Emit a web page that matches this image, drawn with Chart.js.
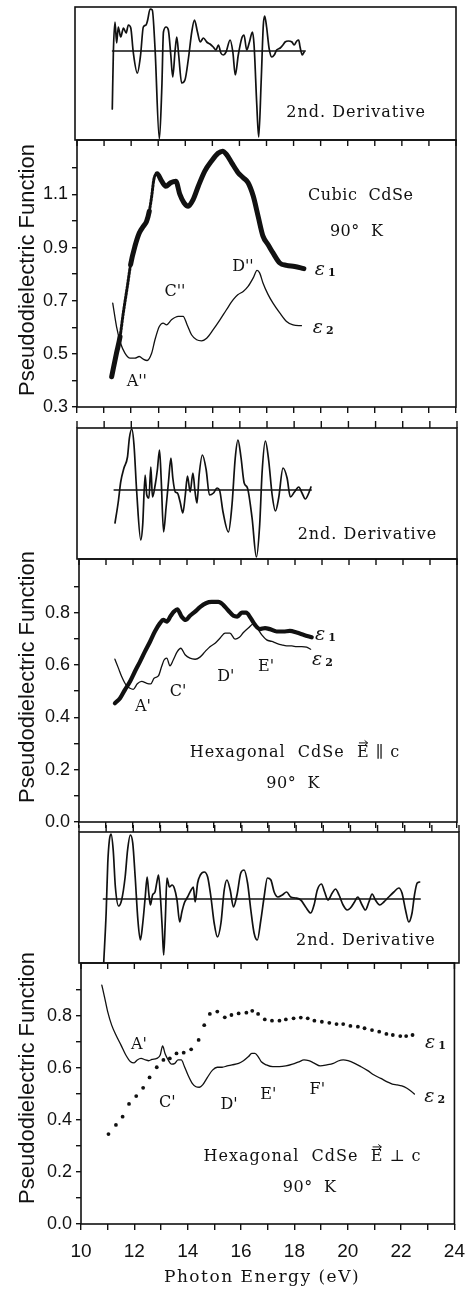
<!DOCTYPE html>
<html><head><meta charset="utf-8">
<script src="https://cdn.jsdelivr.net/npm/chart.js@4.4.0/dist/chart.umd.min.js"></script>
<style>
html,body{margin:0;padding:0;background:#fff;}
body{width:475px;height:1289px;position:relative;overflow:hidden;}
canvas{position:absolute;left:0;}
</style></head><body>
<script>
// ---------- shared axis values ----------
const xTickVals = [10,11,12,13,14,15,16,17,18,19,20,21,22,23,24];
const xTickLabels = ['10','','12','','14','','16','','18','','20','','22','','24'];

// ---------- panel 1 : 2nd derivative (cubic) ----------
const d1X = [11.37,11.41,11.47,11.53,11.59,11.68,11.78,11.88,11.96,12.05,12.14,12.29,12.41,12.51,12.61,12.67,12.76,12.84,12.94,13.10,13.19,13.25,13.35,13.43,13.52,13.59,13.68,13.74,13.81,13.92,14.04,14.17,14.29,14.39,14.50,14.60,14.72,14.84,14.96,15.08,15.18,15.27,15.36,15.45,15.55,15.70,15.80,15.89,16.00,16.13,16.21,16.31,16.41,16.52,16.58,16.68,16.75,16.84,16.92,16.97,17.04,17.13,17.23,17.32,17.41,17.54,17.64,17.72,17.84,17.97,18.05,18.15,18.22,18.27,18.35,18.42];
const d1Y = [-58,-1,29,8,24,14,23,18,26,23,-1,-22,-4,24,26,31,42,41,3,-88,-37,19,24,21,-4,-26,1,14,-4,-32,-29,-7,19,31,19,9,13,9,7,4,1,6,-2,-4,-1,11,-1,-24,-4,13,16,1,9,19,6,-54,-86,-31,26,35,24,3,-6,-4,1,3,6,9,10,9,6,10,11,4,-4,-1];
const d1ZeroX = [11.38, 18.46];

// ---------- panel 2 : cubic CdSe ----------
const c1X = [11.28,11.46,11.59,11.71,11.86,11.98,12.14,12.30,12.45,12.57,12.67,12.76,12.84,12.96,13.13,13.28,13.46,13.65,13.80,13.95,14.11,14.29,14.48,14.72,14.97,15.21,15.38,15.52,15.71,15.95,16.14,16.32,16.51,16.69,16.87,17.06,17.24,17.49,17.74,18.04,18.38];
const c1Y = [0.414,0.503,0.565,0.654,0.754,0.836,0.905,0.955,0.980,0.999,1.037,1.094,1.157,1.178,1.150,1.131,1.144,1.150,1.100,1.069,1.056,1.081,1.131,1.188,1.226,1.255,1.263,1.251,1.220,1.182,1.163,1.144,1.094,1.018,0.943,0.911,0.880,0.842,0.833,0.829,0.821];
const c2X = [11.32,11.46,11.61,11.77,11.96,12.14,12.30,12.45,12.59,12.76,12.88,13.04,13.18,13.31,13.49,13.74,13.92,14.07,14.23,14.42,14.60,14.79,15.03,15.28,15.52,15.77,15.95,16.14,16.32,16.51,16.65,16.75,16.87,17.06,17.24,17.49,17.74,17.98,18.29];
const c2Y = [0.691,0.603,0.540,0.503,0.484,0.484,0.490,0.480,0.475,0.503,0.553,0.603,0.616,0.609,0.628,0.641,0.641,0.609,0.572,0.553,0.549,0.559,0.591,0.628,0.666,0.704,0.723,0.735,0.754,0.786,0.814,0.804,0.767,0.723,0.691,0.654,0.622,0.609,0.606];
const c1Dotted = [[11.52, 11.98], [12.60, 12.86]];
const p2YTicks = [0.3,0.4,0.5,0.6,0.7,0.8,0.9,1.0,1.1,1.2];
const p2YLabels = ['0.3','','0.5','','0.7','','0.9','','1.1',''];

// ---------- panel 3 : 2nd derivative (hex E||c) ----------
const d2X = [11.40,11.52,11.61,11.73,11.86,11.93,12.02,12.10,12.20,12.35,12.42,12.51,12.57,12.65,12.72,12.78,12.88,12.96,13.04,13.10,13.19,13.28,13.37,13.46,13.53,13.62,13.70,13.80,13.90,13.99,14.07,14.17,14.27,14.35,14.42,14.50,14.62,14.76,14.88,15.03,15.16,15.25,15.38,15.58,15.71,15.83,15.93,16.04,16.16,16.28,16.45,16.61,16.73,16.82,16.94,17.06,17.19,17.31,17.43,17.59,17.74,17.86,18.01,18.17,18.29,18.41,18.54,18.62];
const d2Y = [-33,-12,8,22,33,52,61,45,-2,-50,-35,15,-5,-8,23,-7,5,20,40,12,-42,-18,8,32,12,-2,-3,-12,-23,-5,14,-2,17,-2,-13,15,35,20,-5,-3,2,0,-22,-42,-15,32,50,33,7,2,-28,-67,-35,18,49,30,-5,-21,-8,22,12,-7,-2,3,-3,-9,-3,3];
const d2ZeroX = [11.37, 18.63];

// ---------- panel 4 : hexagonal CdSe E||c ----------
const h1X = [11.33,11.52,11.70,11.89,12.07,12.26,12.44,12.63,12.81,13.00,13.12,13.25,13.40,13.52,13.64,13.80,13.96,14.11,14.30,14.48,14.70,14.91,15.16,15.34,15.53,15.72,15.86,16.03,16.19,16.36,16.52,16.70,16.89,17.07,17.32,17.57,17.81,18.06,18.33,18.62];
const h1Y = [0.454,0.473,0.505,0.537,0.575,0.613,0.651,0.689,0.728,0.760,0.772,0.766,0.788,0.804,0.813,0.785,0.772,0.788,0.804,0.821,0.836,0.841,0.841,0.830,0.808,0.788,0.785,0.800,0.800,0.779,0.753,0.737,0.741,0.737,0.728,0.728,0.730,0.724,0.715,0.706];
const h2X = [11.33,11.46,11.58,11.74,11.89,12.01,12.16,12.32,12.51,12.66,12.78,12.94,13.06,13.15,13.25,13.37,13.49,13.64,13.77,13.93,14.11,14.30,14.48,14.67,14.85,15.04,15.22,15.41,15.59,15.78,15.94,16.09,16.27,16.46,16.60,16.77,16.95,17.14,17.32,17.51,17.69,17.88,18.06,18.25,18.43,18.58];
const h2Y = [0.622,0.588,0.556,0.524,0.511,0.507,0.528,0.537,0.530,0.528,0.549,0.558,0.594,0.619,0.626,0.597,0.619,0.651,0.664,0.639,0.626,0.622,0.630,0.651,0.670,0.683,0.702,0.722,0.722,0.699,0.706,0.724,0.741,0.757,0.741,0.715,0.696,0.690,0.683,0.677,0.673,0.673,0.670,0.670,0.668,0.660];
const hexYTicks = [0,0.1,0.2,0.3,0.4,0.5,0.6,0.7,0.8,0.9];
const hexYLabels = ['0.0','','0.2','','0.4','','0.6','','0.8',''];

// ---------- panel 5 : 2nd derivative (hex E perp c) ----------
const d3X = [10.91,11.00,11.06,11.12,11.18,11.26,11.34,11.46,11.57,11.70,11.79,11.89,11.98,12.07,12.17,12.26,12.35,12.44,12.51,12.57,12.63,12.71,12.80,12.87,12.93,13.00,13.07,13.12,13.18,13.24,13.33,13.43,13.51,13.61,13.71,13.79,13.88,14.00,14.13,14.21,14.28,14.37,14.47,14.61,14.74,14.86,14.98,15.10,15.23,15.35,15.45,15.57,15.69,15.82,15.96,16.08,16.21,16.33,16.45,16.57,16.70,16.82,16.94,17.07,17.19,17.33,17.49,17.65,17.80,17.98,18.17,18.35,18.54,18.66,18.78,18.93,19.05,19.17,19.33,19.45,19.58,19.73,19.88,20.00,20.15,20.27,20.43,20.55,20.68,20.80,20.92,21.08,21.23,21.41,21.60,21.78,21.90,22.03,22.15,22.27,22.36,22.46,22.55];
const d3Y = [-64,-14,36,59,65,49,12,-7,-1,22,49,64,56,22,-21,-41,-24,2,22,6,-6,4,7,17,24,2,-31,-56,-21,21,12,14,11,-1,-23,-13,-4,2,9,12,-3,16,24,27,22,2,-24,-38,-24,9,19,9,-8,4,26,29,16,-11,-34,-41,-21,2,21,19,7,2,4,7,2,1,-1,-8,-14,-6,9,15,7,-1,6,10,4,-6,-11,-9,-3,2,-6,-11,-3,5,-1,-6,-3,2,7,11,6,-11,-23,-14,4,16,17];
const d3ZeroX = [10.90, 22.57];

// ---------- panel 6 : hexagonal CdSe E perp c ----------
const p1X = [11.03,11.31,11.56,11.80,12.07,12.33,12.57,12.84,13.09,13.33,13.58,13.85,14.13,14.41,14.62,14.83,15.11,15.39,15.64,15.91,16.20,16.42,16.64,16.89,17.16,17.44,17.68,17.97,18.24,18.50,18.75,19.03,19.31,19.58,19.83,20.10,20.38,20.63,20.91,21.18,21.45,21.69,21.97,22.19,22.43];
const p1Y = [0.346,0.381,0.413,0.462,0.492,0.524,0.564,0.603,0.631,0.637,0.656,0.659,0.672,0.708,0.765,0.808,0.817,0.795,0.804,0.810,0.813,0.820,0.808,0.787,0.782,0.782,0.787,0.791,0.794,0.791,0.782,0.778,0.774,0.769,0.769,0.762,0.759,0.753,0.746,0.740,0.731,0.727,0.723,0.723,0.727];
const p2X = [10.78,10.88,11.00,11.15,11.31,11.50,11.68,11.86,11.99,12.11,12.25,12.42,12.54,12.66,12.84,12.97,13.06,13.15,13.27,13.39,13.52,13.64,13.76,13.88,14.01,14.17,14.31,14.44,14.56,14.74,14.93,15.11,15.29,15.48,15.66,15.91,16.09,16.28,16.40,16.52,16.64,16.76,16.95,17.19,17.44,17.68,17.93,18.17,18.36,18.54,18.72,18.97,19.22,19.46,19.64,19.83,20.01,20.26,20.50,20.75,20.99,21.24,21.48,21.67,21.85,22.03,22.22,22.40,22.50];
const p2Y = [0.919,0.874,0.817,0.765,0.727,0.688,0.650,0.624,0.620,0.631,0.637,0.631,0.628,0.633,0.637,0.650,0.685,0.656,0.631,0.615,0.618,0.631,0.631,0.605,0.573,0.541,0.528,0.526,0.535,0.564,0.592,0.603,0.603,0.608,0.612,0.618,0.628,0.644,0.656,0.656,0.644,0.624,0.612,0.605,0.605,0.608,0.615,0.624,0.631,0.628,0.620,0.608,0.612,0.618,0.627,0.631,0.628,0.618,0.605,0.590,0.573,0.560,0.547,0.538,0.535,0.531,0.522,0.509,0.500];

// ---------- helpers ----------
const pts = (xs, ys) => xs.map((x, i) => ({x, y: ys[i]}));
const zero = xs => xs.map(x => ({x, y: 0}));
const W = 475;
const INK = '#111';
const SERIF = '"DejaVu Serif", serif';
const SANS = '"Liberation Sans", Arial, sans-serif';

const framePlugin = {
  id: 'frame',
  afterDraw(chart, args, o) {
    const ctx = chart.ctx, a = chart.chartArea, sx = chart.scales.x, sy = chart.scales.y;
    ctx.save();
    ctx.strokeStyle = INK; ctx.lineWidth = 1.6;
    ctx.strokeRect(a.left, a.top, a.right - a.left, a.bottom - a.top);
    if (o.topTicks) {
      const d = o.topTicks === 'in' ? 6 : -7;
      ctx.lineWidth = 1.4;
      xTickVals.forEach(v => {
        const px = sx.getPixelForValue(v);
        ctx.beginPath(); ctx.moveTo(px, a.top); ctx.lineTo(px, a.top + d); ctx.stroke();
      });
    }
    ctx.fillStyle = INK;
    (o.texts || []).forEach(t => {
      const px = sx.getPixelForValue(t.x), py = sy.getPixelForValue(t.y);
      if (t.eps) {
        ctx.textAlign = 'left'; ctx.textBaseline = 'middle';
        ctx.font = 'italic 19px ' + SERIF;
        ctx.fillText('\u03b5', px, py);
        const w = ctx.measureText('\u03b5').width;
        ctx.font = 'bold 11px ' + SERIF;
        ctx.fillText(t.eps, px + w + 3, py + 3);
      } else {
        ctx.font = t.font || ('16px ' + SERIF);
        ctx.letterSpacing = (t.ls || 0) + 'px';
        ctx.textAlign = 'center'; ctx.textBaseline = 'middle';
        ctx.fillText(t.t, px, py);
        if (t.vec) {
          // arrow accent over the vector E
          const total = ctx.measureText(t.t).width;
          const i = t.t.lastIndexOf('E');
          const x0 = px - total / 2 + ctx.measureText(t.t.slice(0, i)).width;
          const ew = ctx.measureText('E').width - (t.ls || 0);
          const ay = py - 10;
          ctx.strokeStyle = INK; ctx.lineWidth = 1;
          ctx.beginPath(); ctx.moveTo(x0 + 2, ay); ctx.lineTo(x0 + ew - 1, ay); ctx.stroke();
          ctx.beginPath(); ctx.moveTo(x0 + ew - 4, ay - 2.5); ctx.lineTo(x0 + ew - 1, ay); ctx.lineTo(x0 + ew - 4, ay + 2.5); ctx.stroke();
        }
        ctx.letterSpacing = '0px';
      }
    });
    const top = parseFloat(chart.canvas.style.top);
    if (o.yTitle) {
      ctx.save();
      ctx.translate(28, o.yTitle - top);
      ctx.rotate(-Math.PI / 2);
      ctx.font = '22px ' + SANS;
      ctx.textAlign = 'center'; ctx.textBaseline = 'middle';
      ctx.fillText('Pseudodielectric Function', 0, 0);
      ctx.restore();
    }
    if (o.xTitle) {
      ctx.font = '17px ' + SERIF;
      ctx.letterSpacing = '1.5px';
      ctx.textAlign = 'center'; ctx.textBaseline = 'middle';
      ctx.fillText('Photon Energy (eV)', o.xTitle[0], o.xTitle[1] - top);
      ctx.letterSpacing = '0px';
    }
    ctx.restore();
  }
};

function panel(p) {
  const c = document.createElement('canvas');
  const top = p.T - p.padT, h = (p.B - p.T) + p.padT + p.padB;
  c.width = W; c.height = h;
  c.style.top = top + 'px'; c.style.width = W + 'px'; c.style.height = h + 'px';
  document.body.appendChild(c);
  const hasY = !!p.yTicks, hasX = !!p.xAxis;
  const xScale = {
    type: 'linear', min: 10, max: 24, display: hasX,
    afterFit: s => { if (hasX) s.height = p.padB; },
    afterBuildTicks: s => { s.ticks = xTickVals.map(v => ({value: v})); },
    border: {display: false},
    grid: {drawOnChartArea: false, drawTicks: true, tickLength: 6, color: INK, lineWidth: 1.4},
    ticks: {display: !!p.xLabels, autoSkip: false, maxRotation: 0, padding: 10,
      color: INK, font: {family: SANS, size: 19},
      callback: (v, i) => xTickLabels[i]}
  };
  const yScale = {
    type: 'linear', min: p.yMin, max: p.yMax, display: hasY,
    afterFit: s => { if (hasY) s.width = p.L; },
    afterBuildTicks: s => { if (p.yTicks) s.ticks = p.yTicks.map(v => ({value: v})); },
    border: {display: false},
    grid: {drawOnChartArea: false, drawTicks: true, tickLength: 5, color: INK, lineWidth: 1.4},
    ticks: {autoSkip: false, padding: 4, color: INK, font: {family: SANS, size: 18},
      callback: (v, i) => p.yLabels ? p.yLabels[i] : ''}
  };
  return new Chart(c, {
    type: 'line',
    data: {datasets: p.datasets},
    options: {
      responsive: false, animation: false, devicePixelRatio: 1,
      layout: {padding: {left: hasY ? 0 : p.L, right: W - p.R, top: p.padT, bottom: hasX ? 0 : p.padB}},
      elements: {point: {radius: 0}, line: {borderColor: INK, cubicInterpolationMode: 'monotone', borderJoinStyle: 'round', borderCapStyle: 'round'}},
      plugins: {legend: {display: false}, tooltip: {enabled: false}, frame: p.frame},
      scales: {x: xScale, y: yScale}
    },
    plugins: [framePlugin]
  });
}

const derivLine = (xs, ys) => ({data: pts(xs, ys), borderColor: INK, borderWidth: 1.7, pointRadius: 0});
const zeroLine = xs => ({data: zero(xs), borderColor: INK, borderWidth: 1.6, pointRadius: 0});
const inRanges = (x, rs) => rs.some(r => x >= r[0] && x < r[1]);

// Panel 1
panel({T: 7, B: 140, L: 75, R: 456, padT: 2, padB: 2, yMin: -89, yMax: 44,
  datasets: [zeroLine(d1ZeroX), derivLine(d1X, d1Y)],
  frame: {texts: [{t: '2nd. Derivative', x: 20.33, y: -62, ls: 1}]}});

// Panel 2
panel({T: 140, B: 407, L: 77, R: 456, padT: 16, padB: 16, yMin: 0.3, yMax: 1.305,
  yTicks: p2YTicks, yLabels: p2YLabels, xAxis: true,
  datasets: [
    {data: pts(c2X, c2Y), borderColor: INK, borderWidth: 1.3, pointRadius: 0},
    {data: pts(c1X, c1Y), borderColor: INK, borderWidth: 5, pointRadius: 0,
      segment: {
        borderWidth: ctx => inRanges(ctx.p0.parsed.x, c1Dotted) ? 3 : 5,
        borderDash: ctx => inRanges(ctx.p0.parsed.x, c1Dotted) ? [2, 1.5] : []
      }}
  ],
  frame: {topTicks: 'in', yTitle: 270, texts: [
    {t: 'Cubic  CdSe', x: 20.48, y: 1.096, ls: 0.5},
    {t: '90\u00b0  K', x: 20.33, y: 0.960, ls: 0.5},
    {eps: '1', x: 18.78, y: 0.817},
    {eps: '2', x: 18.71, y: 0.598},
    {t: "D''", x: 16.13, y: 0.828},
    {t: "C''", x: 13.62, y: 0.734},
    {t: "A''", x: 12.21, y: 0.394}
  ]}});

// Panel 3
panel({T: 428, B: 559, L: 77, R: 457, padT: 10, padB: 2, yMin: -69, yMax: 62,
  datasets: [zeroLine(d2ZeroX), derivLine(d2X, d2Y)],
  frame: {topTicks: 'out', texts: [{t: '2nd. Derivative', x: 20.70, y: -45, ls: 1}]}});

// Panel 4
panel({T: 559, B: 822, L: 79, R: 457, padT: 16, padB: 16, yMin: 0, yMax: 1.005,
  yTicks: hexYTicks, yLabels: hexYLabels, xAxis: true,
  datasets: [
    {data: pts(h2X, h2Y), borderColor: INK, borderWidth: 1.3, pointRadius: 0},
    {data: pts(h1X, h1Y), borderColor: INK, borderWidth: 4.2, pointRadius: 0}
  ],
  frame: {topTicks: 'in', yTitle: 677, texts: [
    {t: 'Hexagonal  CdSe  E \u2225 c', x: 18.0, y: 0.264, ls: 1, vec: true},
    {t: '90\u00b0  K', x: 17.93, y: 0.145, ls: 0.5},
    {eps: '1', x: 18.74, y: 0.715},
    {eps: '2', x: 18.63, y: 0.620},
    {t: "E'", x: 16.93, y: 0.593},
    {t: "D'", x: 15.44, y: 0.555},
    {t: "C'", x: 13.67, y: 0.497},
    {t: "A'", x: 12.37, y: 0.440}
  ]}});

// Panel 5
panel({T: 832, B: 963, L: 79, R: 459, padT: 10, padB: 2, yMin: -64, yMax: 67,
  datasets: [zeroLine(d3ZeroX), derivLine(d3X, d3Y)],
  frame: {topTicks: 'out', texts: [{t: '2nd. Derivative', x: 20.57, y: -42, ls: 1}]}});

// Panel 6
panel({T: 963, B: 1224, L: 81, R: 462, padT: 16, padB: 64, yMin: 0, yMax: 1.004,
  yTicks: hexYTicks, yLabels: hexYLabels, xAxis: true, xLabels: true,
  datasets: [
    {data: pts(p2X, p2Y), borderColor: INK, borderWidth: 1.3, pointRadius: 0},
    {data: pts(p1X, p1Y), showLine: false, pointRadius: 1.9, pointBackgroundColor: INK, pointBorderWidth: 0}
  ],
  frame: {topTicks: 'in', yTitle: 1078, xTitle: [262, 1278], texts: [
    {t: 'Hexagonal  CdSe  E \u22a5 c', x: 18.68, y: 0.258, ls: 1, vec: true},
    {t: '90\u00b0  K', x: 18.57, y: 0.138, ls: 0.5},
    {eps: '1', x: 22.9, y: 0.696},
    {eps: '2', x: 22.87, y: 0.488},
    {t: "A'", x: 12.17, y: 0.688},
    {t: "C'", x: 13.24, y: 0.465},
    {t: "D'", x: 15.55, y: 0.458},
    {t: "E'", x: 17.02, y: 0.496},
    {t: "F'", x: 18.86, y: 0.515}
  ]}});
</script>
</body></html>
